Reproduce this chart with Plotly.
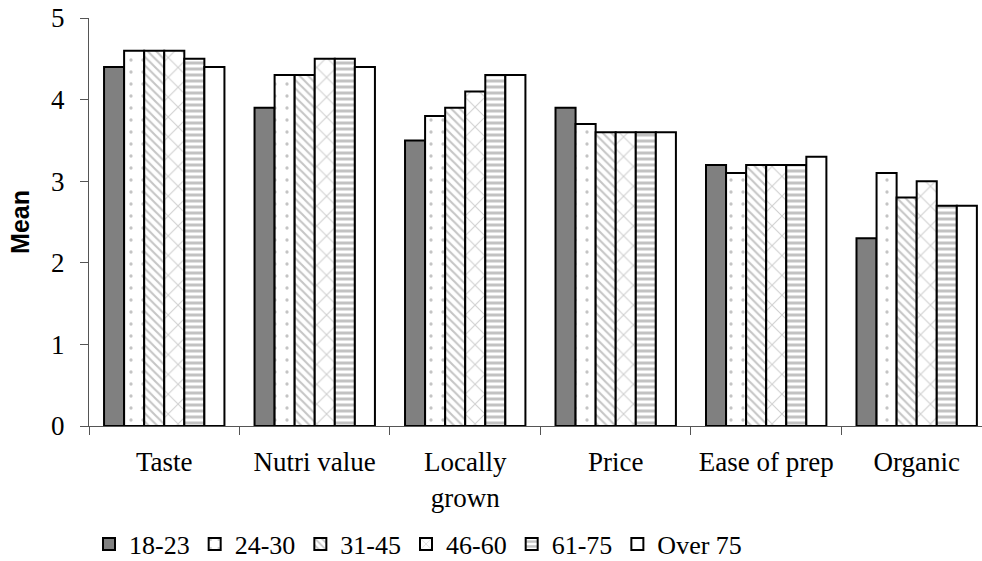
import plotly.graph_objects as go

categories = ["Taste", "Nutri value", "Locally<br>grown", "Price", "Ease of prep", "Organic"]
age_groups = ["18-23", "24-30", "31-45", "46-60", "61-75", "Over 75"]

g18_23 = [4.4, 3.9, 3.5, 3.9, 3.2, 2.3]
g24_30 = [4.6, 4.3, 3.8, 3.7, 3.1, 3.1]
g31_45 = [4.6, 4.3, 3.9, 3.6, 3.2, 2.8]
g46_60 = [4.6, 4.5, 4.1, 3.6, 3.2, 3.0]
g61_75 = [4.5, 4.5, 4.3, 3.6, 3.2, 2.7]
g_over75 = [4.4, 4.4, 4.3, 3.6, 3.3, 2.7]

series = [g18_23, g24_30, g31_45, g46_60, g61_75, g_over75]

# fill style for each age group
styles = [
    dict(color="#808080", pattern=dict(shape="")),
    dict(color="white", pattern=dict(shape=".", fgcolor="#8a8a8a", bgcolor="white", size=12, solidity=0.06)),
    dict(color="white", pattern=dict(shape="\\", fgcolor="#8c8c8c", bgcolor="white", size=6, solidity=0.35)),
    dict(color="white", pattern=dict(shape="x", fgcolor="#a0a0a0", bgcolor="white", size=14, solidity=0.15)),
    dict(color="white", pattern=dict(shape="-", fgcolor="#858585", bgcolor="white", size=6, solidity=0.5)),
    dict(color="white", pattern=dict(shape="")),
]

serif = "Liberation Serif, Times New Roman, serif"
FS = 27

fig = go.Figure()
for name, vals, st in zip(age_groups, series, styles):
    fig.add_trace(go.Bar(
        name=name,
        x=categories,
        y=vals,
        marker=dict(
            color=st["color"],
            pattern=st["pattern"],
            line=dict(color="black", width=2),
        ),
    ))

fig.update_layout(
    width=982,
    height=561,
    barmode="group",
    bargap=0.2,
    bargroupgap=0,
    paper_bgcolor="white",
    plot_bgcolor="white",
    margin=dict(l=89, r=0, t=18, b=135, autoexpand=False),
    font=dict(family=serif, size=FS, color="black"),
    showlegend=True,
    legend=dict(
        orientation="h",
        x=0.0, xanchor="left",
        xref="paper",
        yref="container",
        y=0.072, yanchor="top",
        font=dict(family=serif, size=26),
        itemwidth=30,
        tracegroupgap=0,
        bgcolor="rgba(0,0,0,0)",
    ),
    xaxis=dict(
        range=[-0.5, 5.434],
        showline=True,
        linecolor="#555555",
        linewidth=1,
        ticks="outside",
        tickson="boundaries",
        ticklen=8,
        tickcolor="#555555",
        ticklabelstandoff=12,
        showgrid=False,
        tickfont=dict(family=serif, size=FS),
    ),
    yaxis=dict(
        range=[0, 5],
        dtick=1,
        showline=True,
        linecolor="#555555",
        linewidth=1,
        ticks="outside",
        ticklen=8,
        tickcolor="#555555",
        ticklabelstandoff=10,
        showgrid=False,
        zeroline=False,
        tickfont=dict(family=serif, size=FS),
        title=dict(text="<b>Mean</b>", font=dict(family="Liberation Sans, Arial, sans-serif", size=25), standoff=14),
    ),
)

fig.write_html("out.html")
